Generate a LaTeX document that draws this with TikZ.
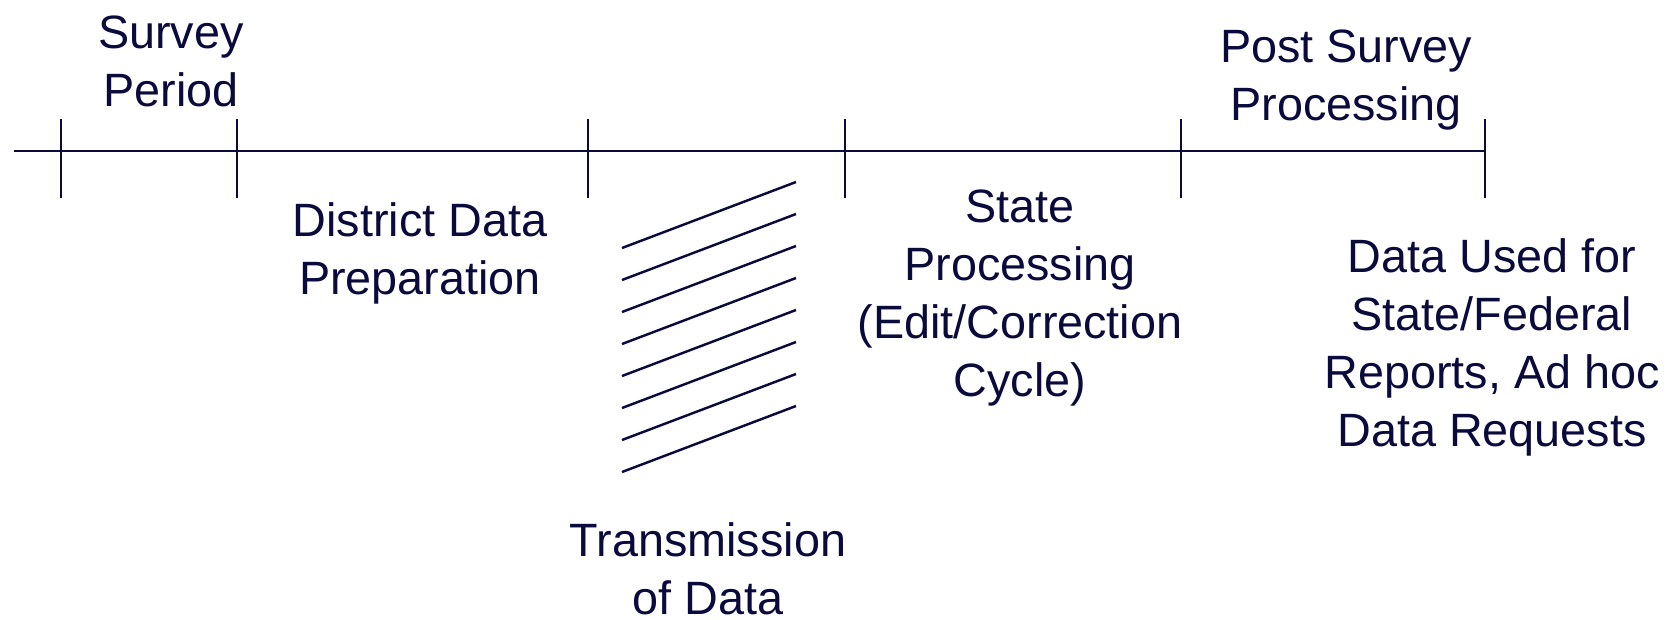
\documentclass[tikz,border=0pt]{standalone}
\usepackage{fontspec}
\setmainfont{Liberation Sans}
\usetikzlibrary{positioning}
\definecolor{navy}{RGB}{10,10,60}
\tikzset{lbl/.style={align=center,text=navy,font=\fontsize{26.6}{33}\selectfont},
tline/.style={navy,line width=1.4pt}}

\begin{document}
\begin{tikzpicture}
\useasboundingbox(0,0)rectangle(33.6,-12.38);
\coordinate(S)at(0.28,-3.02);
\coordinate(P1)at(1.22,-3.02);
\coordinate(P2)at(4.74,-3.02);
\coordinate(P3)at(11.76,-3.02);
\coordinate(P4)at(16.90,-3.02);
\coordinate(P5)at(23.62,-3.02);
\coordinate(P6)at(29.70,-3.02);
\draw[tline](S)--(P6);
\draw[tline]([yshift=0.64cm]P1)--([yshift=-0.94cm]P1);
\draw[tline]([yshift=0.64cm]P2)--([yshift=-0.94cm]P2);
\draw[tline]([yshift=0.64cm]P3)--([yshift=-0.94cm]P3);
\draw[tline]([yshift=0.64cm]P4)--([yshift=-0.94cm]P4);
\draw[tline]([yshift=0.64cm]P5)--([yshift=-0.94cm]P5);
\draw[tline]([yshift=0.64cm]P6)--([yshift=-0.94cm]P6);
%%
\node[lbl](SP)at(3.42,-1.22){Survey\\Period};
\node[lbl](DP)at(8.40,-5.06){District Data\\Preparation};
\node[lbl](TD)at(14.16,-11.38){Transmission\\of Data};
\node[lbl](ST)at(20.40,-5.96){State\\Processing\\(Edit/Correction\\Cycle)};
\node[lbl](PS)at(26.92,-1.60){Post Survey\\Processing};
\node[lbl](DU)at(29.84,-6.94){Data Used for\\State/Federal\\Reports, Ad hoc\\Data Requests};
%
\draw[tline](12.44,-4.96)--(15.92,-3.64);
\draw[tline](12.44,-5.60)--(15.92,-4.28);
\draw[tline](12.44,-6.24)--(15.92,-4.92);
\draw[tline](12.44,-6.88)--(15.92,-5.56);
\draw[tline](12.44,-7.52)--(15.92,-6.20);
\draw[tline](12.44,-8.16)--(15.92,-6.84);
\draw[tline](12.44,-8.80)--(15.92,-7.48);
\draw[tline](12.44,-9.44)--(15.92,-8.12);
\end{tikzpicture}
\end{document}
